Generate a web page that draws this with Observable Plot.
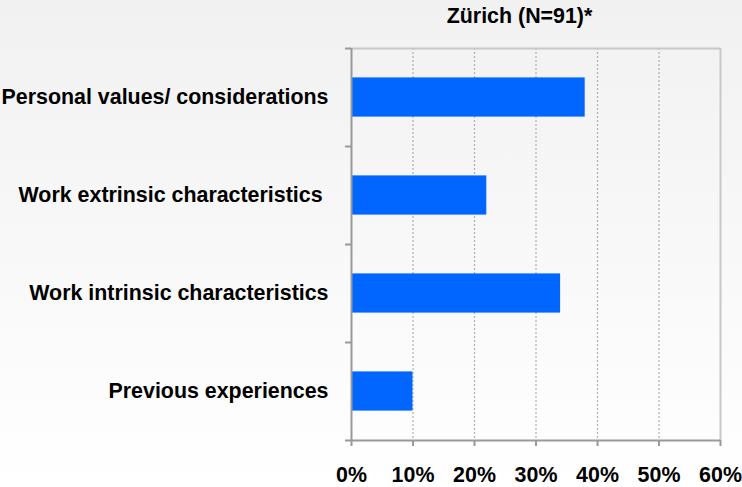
<!DOCTYPE html>
<html>
<head>
<meta charset="utf-8">
<script src="https://cdn.jsdelivr.net/npm/d3@7"></script>
<script src="https://cdn.jsdelivr.net/npm/@observablehq/plot@0.6"></script>
<style>
  html, body { margin: 0; padding: 0; background: #ffffff; }
</style>
</head>
<body>
<div id="chart"></div>
<script>
const title = "Zürich (N=91)*";
const categories = [
  "Personal values/ considerations",
  "Work extrinsic characteristics\u00a0",
  "Work intrinsic characteristics",
  "Previous experiences"
];
const values = [0.38, 0.22, 0.34, 0.10];
const xTicks = [0, 0.1, 0.2, 0.3, 0.4, 0.5, 0.6];
const gridTicks = [0.1, 0.2, 0.3, 0.4, 0.5];

const data = categories.map((c, i) => ({category: c, value: values[i], i}));
const labelTicks = categories.map((c, i) => i + 0.5);
const boundaryTicks = d3.range(categories.length + 1);

const font = {fontSize: 21.4, fontWeight: "bold", fill: "black"};

const chart = Plot.plot({
  width: 742,
  height: 487,
  marginLeft: 351,
  marginRight: 22,
  marginTop: 48,
  marginBottom: 47,
  style: {
    background: "linear-gradient(#f1f1f1, #ffffff)",
    fontFamily: "'Liberation Sans', Arial, sans-serif",
    overflow: "visible"
  },
  x: {domain: [0, 0.6]},
  y: {domain: [0, categories.length], reverse: true},
  marks: [
    Plot.ruleX(gridTicks, {stroke: "#b0b0b0", strokeWidth: 1.2, strokeDasharray: "2,2"}),
    Plot.ruleY([0], {stroke: "#c8c8c8", strokeWidth: 2}),
    Plot.ruleX([0.6], {stroke: "#c8c8c8", strokeWidth: 2}),
    Plot.rectX(data, {
      x1: 0,
      x2: "value",
      y1: d => d.i + 0.3,
      y2: d => d.i + 0.7,
      fill: "#0066ff"
    }),
    Plot.ruleX([0], {stroke: "#999999", strokeWidth: 2}),
    Plot.ruleY([categories.length], {stroke: "#999999", strokeWidth: 2}),
    Plot.axisY({
      ticks: labelTicks,
      tickFormat: t => categories[Math.floor(t)],
      tickSize: 0,
      tickPadding: 23,
      label: null,
      ...font
    }),
    Plot.axisY({
      ticks: boundaryTicks,
      tickSize: 6,
      stroke: "#999999",
      strokeWidth: 2,
      fill: "none",
      label: null
    }),
    Plot.axisX({
      ticks: xTicks,
      tickFormat: d3.format(".0%"),
      tickSize: 6,
      tickPadding: 20.5,
      stroke: "#999999",
      strokeWidth: 2,
      label: null,
      ...font
    }),
    Plot.text([title], {
      text: d => d,
      frameAnchor: "top",
      dx: -16.5,
      dy: -25.5,
      lineAnchor: "bottom",
      ...font
    })
  ]
});

document.getElementById("chart").appendChild(chart);
</script>
</body>
</html>
